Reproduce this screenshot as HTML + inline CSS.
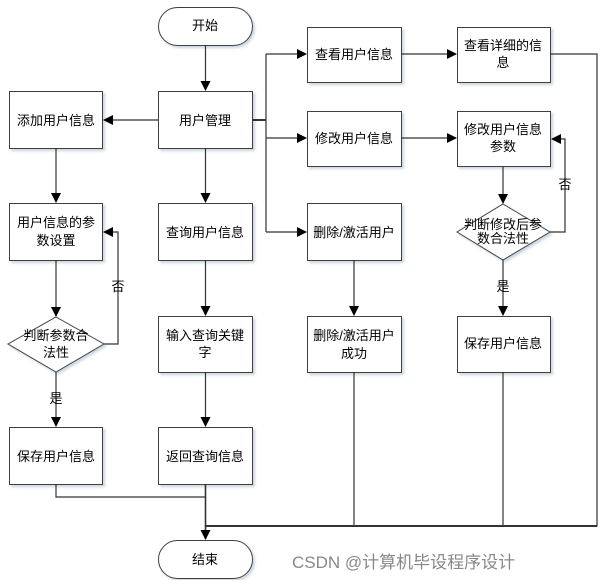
<!DOCTYPE html>
<html><head><meta charset="utf-8"><style>
body{margin:0;background:#fff;}
svg text{font-family:"Liberation Sans","Noto Sans CJK SC",sans-serif;font-size:13px;fill:#000;}
</style></head><body>
<svg width="605" height="580" xmlns="http://www.w3.org/2000/svg">
<defs>
<marker id="a" markerWidth="10" markerHeight="10" refX="9" refY="5" orient="auto" markerUnits="userSpaceOnUse">
<path d="M0,0 L10,5 L0,10 z" fill="#000"/></marker>
<filter id="s"><feDropShadow dx="2" dy="2" stdDeviation="1.2" flood-color="#9ab" flood-opacity="0.5"/></filter>
</defs>
<g fill="#fff" stroke="#404040" stroke-width="1" filter="url(#s)">
<rect x="158.5" y="7.5" width="94" height="38" rx="19"/>
<rect x="158.5" y="91.5" width="94" height="57"/>
<rect x="9.5" y="91.5" width="93" height="57"/>
<rect x="9.5" y="203.5" width="93" height="57"/>
<rect x="158.5" y="203.5" width="94" height="57"/>
<path d="M56,317 L104,344 L56,372 L8,344 z"/>
<rect x="9.5" y="427.5" width="93" height="57"/>
<rect x="158.5" y="316.5" width="94" height="56"/>
<rect x="158.5" y="427.5" width="94" height="57"/>
<rect x="307.5" y="27.5" width="94" height="55"/>
<rect x="457.5" y="27.5" width="93" height="55"/>
<rect x="307.5" y="111.5" width="94" height="55"/>
<rect x="457.5" y="111.5" width="93" height="55"/>
<rect x="307.5" y="203.5" width="94" height="57"/>
<path d="M503,204 L550,232 L503,260 L457,232 z"/>
<rect x="307.5" y="316.5" width="94" height="56"/>
<rect x="457.5" y="316.5" width="93" height="56"/>
<rect x="158.5" y="540.5" width="94" height="38" rx="19"/>
</g>
<g fill="none" stroke="#333" stroke-width="1.2">
<path d="M205.5,45 V90" marker-end="url(#a)"/>
<path d="M158,120 H104" marker-end="url(#a)"/>
<path d="M56,148 V202" marker-end="url(#a)"/>
<path d="M205.5,148 V202" marker-end="url(#a)"/>
<path d="M56,260 V316" marker-end="url(#a)"/>
<path d="M104,344 H118 V232 H104" marker-end="url(#a)"/>
<path d="M56,372 V426" marker-end="url(#a)"/>
<path d="M205.5,260 V315" marker-end="url(#a)"/>
<path d="M205.5,372 V426" marker-end="url(#a)"/>
<path d="M252,120 H266" stroke-width="2"/>
<path d="M266,54 V232"/>
<path d="M266,54 H306" marker-end="url(#a)"/>
<path d="M266,138 H306" marker-end="url(#a)"/>
<path d="M266,232 H306" marker-end="url(#a)"/>
<path d="M401,54 H456" marker-end="url(#a)"/>
<path d="M401,138 H456" marker-end="url(#a)"/>
<path d="M503,166 V203" marker-end="url(#a)"/>
<path d="M550,232 H565 V139 H552" marker-end="url(#a)"/>
<path d="M503,260 V315" marker-end="url(#a)"/>
<path d="M354,260 V315" marker-end="url(#a)"/>
<path d="M550,54 H597 V526 H206"/>
<path d="M206,526 H597" stroke-width="2"/>
<path d="M354,372 V526"/>
<path d="M503,372 V526"/>
<path d="M56,484 V497 H206"/>
<path d="M205.5,484 V539" marker-end="url(#a)" stroke-width="1.6"/>
</g>
<g text-anchor="middle">
<text x="205" y="30">开始</text>
<text x="205" y="125">用户管理</text>
<text x="56" y="125">添加用户信息</text>
<text x="56" y="227">用户信息的参</text>
<text x="56" y="245">数设置</text>
<text x="205" y="237">查询用户信息</text>
<text x="56" y="340" font-size="12">判断参数合</text>
<text x="56" y="357" font-size="12">法性</text>
<text x="118" y="291" font-size="11">否</text>
<text x="56" y="403" font-size="11">是</text>
<text x="56" y="461">保存用户信息</text>
<text x="205" y="340">输入查询关键</text>
<text x="205" y="357">字</text>
<text x="205" y="461">返回查询信息</text>
<text x="354" y="59">查看用户信息</text>
<text x="503" y="50">查看详细的信</text>
<text x="503" y="67">息</text>
<text x="354" y="143">修改用户信息</text>
<text x="503" y="134">修改用户信息</text>
<text x="503" y="151">参数</text>
<text x="354" y="237">删除/激活用户</text>
<text x="503" y="229" font-size="11">判断修改后参</text>
<text x="503" y="243" font-size="11">数合法性</text>
<text x="565" y="189" font-size="11">否</text>
<text x="503" y="291" font-size="11">是</text>
<text x="354" y="340">删除/激活用户</text>
<text x="354" y="358">成功</text>
<text x="503" y="348">保存用户信息</text>
<text x="205" y="564">结束</text>
</g>
<text x="292" y="568" style="font-size:17px;fill:#888">CSDN @计算机毕设程序设计</text>
</svg>
</body></html>
